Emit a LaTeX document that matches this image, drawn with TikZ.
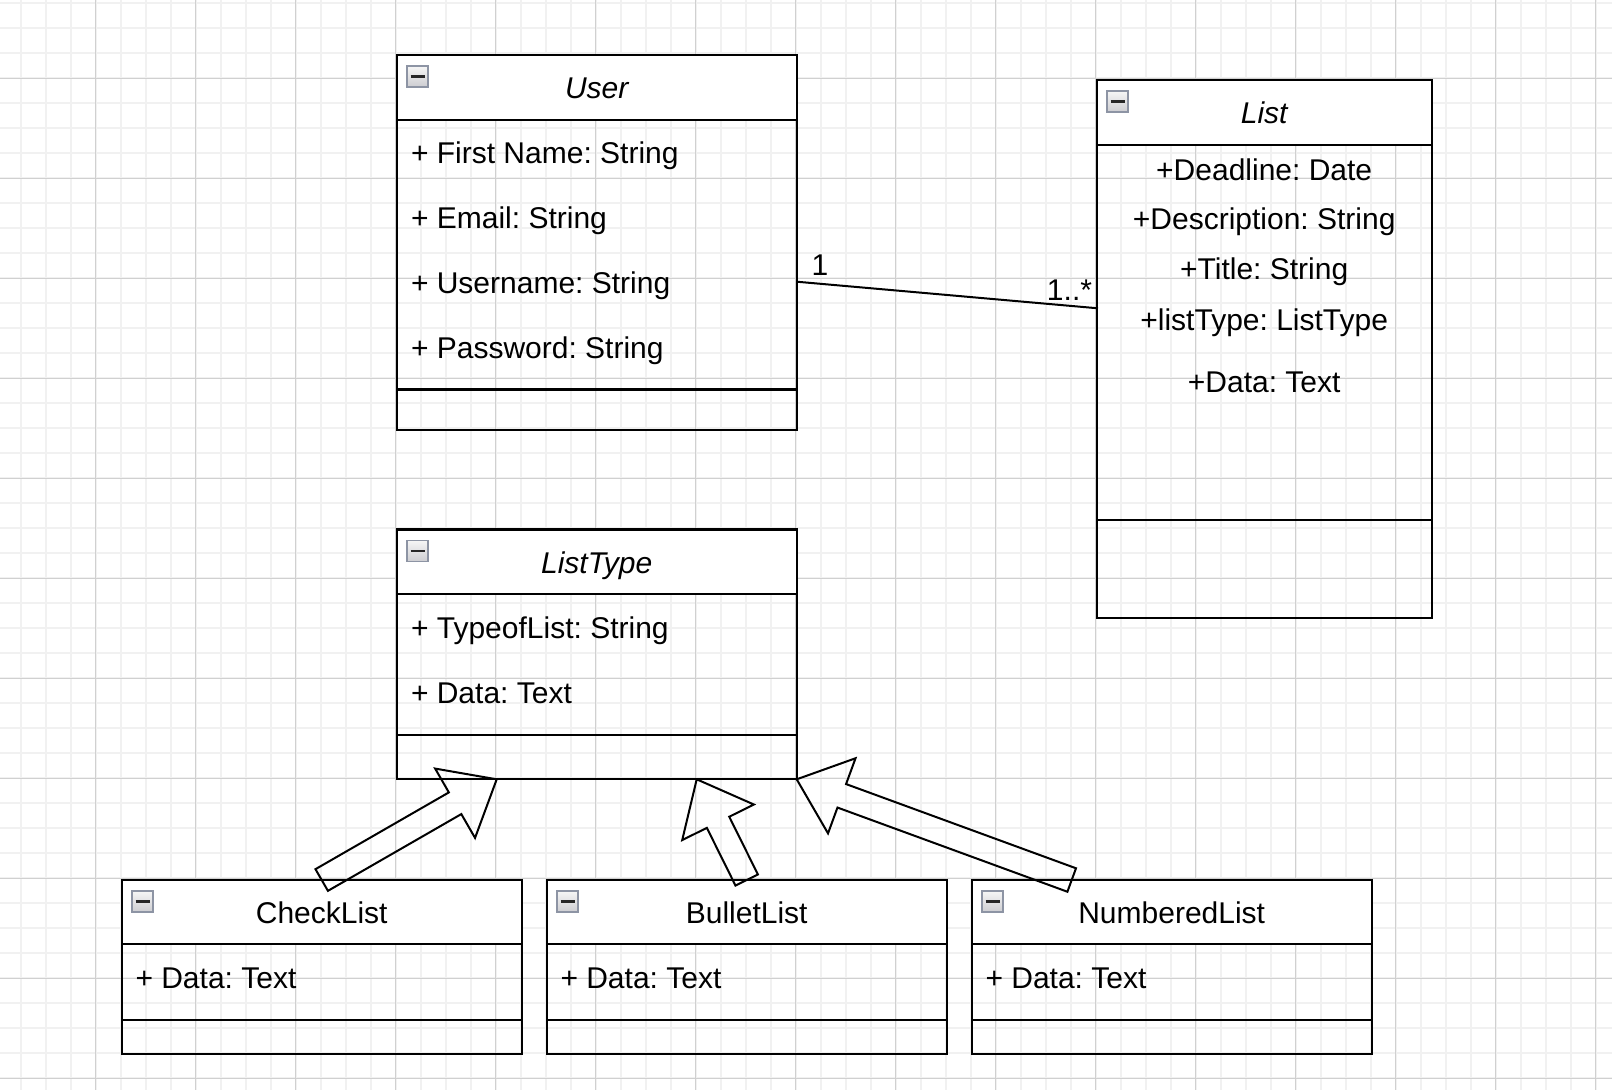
\documentclass[tikz,border=0pt]{standalone}
\usepackage{fontspec}
\setmainfont{Liberation Sans}
\usetikzlibrary{calc}
\frenchspacing

\definecolor{gridminor}{HTML}{F1F1F1}
\definecolor{gridmajor}{HTML}{D0D0D0}
\definecolor{iconedge}{HTML}{8D94A4}
\definecolor{iconlight}{HTML}{F6F6F6}
\definecolor{icondark}{HTML}{CDCDD1}

% collapse toggle in the top-left corner of a class header
\newcommand{\collapsetoggle}[1]{%
  \draw[iconedge, line width=1.6pt, top color=iconlight, bottom color=icondark]
    ($(#1.north west)+(10.5,11)$) rectangle ++(21,21);
  \draw[black!85, line width=2.6pt] ($(#1.north west)+(14,21.5)$) -- ++(14,0);
}

% hollow block arrow from a tail point to a tip point
\newcommand{\blockarrow}[2]{%
  \path ($(#2)!48pt!(#1)$) coordinate (ba-neck);
  \draw[genarrow]
    ($(#1)!12.5pt!90:(#2)$) -- ($(ba-neck)!12.5pt!90:(#2)$)
    -- ($(ba-neck)!40pt!90:(#2)$) -- (#2)
    -- ($(ba-neck)!40pt!-90:(#2)$) -- ($(ba-neck)!12.5pt!-90:(#2)$)
    -- ($(#1)!12.5pt!-90:(#2)$) -- cycle;
}

\begin{document}
\begin{tikzpicture}[x=1pt, y=-1pt,
  txt/.style={inner sep=0pt, outer sep=0pt, font=\fontsize{30}{35}\selectfont},
  attr/.style={txt, anchor=base west},
  centred/.style={txt, anchor=base},
  classtitle/.style={txt, anchor=base, font=\fontsize{30}{35}\selectfont\itshape},
  classframe/.style={draw=black, line width=2.3pt, inner sep=0pt, outer sep=0pt, anchor=north west},
  classhead/.style={classframe, fill=white},
  divider/.style={draw=black, line width=2.3pt},
  assoc/.style={draw=black, line width=2pt},
  genarrow/.style={draw=black, line width=2pt, line join=miter},
]
\useasboundingbox (0,0) rectangle (1612,1090);
\fill[white] (0,0) rectangle (1612,1090);

% background grid
\foreach \gx in {20.5,45.5,...,1612} \draw[gridminor, line width=2pt] (\gx,0) -- (\gx,1090);
\foreach \gy in {3,28,...,1090} \draw[gridminor, line width=2pt] (0,\gy) -- (1612,\gy);
\foreach \gx in {95.5,195.5,...,1612} \draw[gridmajor, line width=1pt] (\gx,0) -- (\gx,1090);
\foreach \gy in {78,178,...,1090} \draw[gridmajor, line width=1pt] (0,\gy) -- (1612,\gy);

% ---- User
\node[classframe, minimum width=400pt, minimum height=375pt] (user) at (396.7,54.7) {};
\node[classhead, minimum width=400pt, minimum height=65.6pt] (user-head) at (user.north west) {};
\draw[divider] ($(user.north west)+(0,334.9)$) -- ($(user.north east)+(0,334.9)$);
\collapsetoggle{user}
\node[classtitle] (user-title) at (596.7,98.3) {User};
\node[attr] (user-a1) at (411,163) {+ First Name: String};
\node[attr] (user-a2) at (411,228) {+ Email: String};
\node[attr] (user-a3) at (411,293) {+ Username: String};
\node[attr] (user-a4) at (411,358) {+ Password: String};

% ---- List
\node[classframe, minimum width=335pt, minimum height=538.3pt] (list) at (1096.7,80) {};
\node[classhead, minimum width=335pt, minimum height=64.7pt] (list-head) at (list.north west) {};
\draw[divider] ($(list.north west)+(0,440)$) -- ($(list.north east)+(0,440)$);
\collapsetoggle{list}
\node[classtitle] (list-title) at (1264.2,123.3) {List};
\node[centred] (list-a1) at (1264.2,180) {+Deadline: Date};
\node[centred] (list-a2) at (1264.2,229.5) {+Description: String};
\node[centred] (list-a3) at (1264.2,279.5) {+Title: String};
\node[centred] (list-a4) at (1264.2,330) {+listType: ListType};
\node[centred] (list-a5) at (1264.2,392.5) {+Data: Text};

% ---- ListType
\node[classframe, minimum width=400pt, minimum height=249.8pt] (listtype) at (396.7,529.5) {};
\node[classhead, minimum width=400pt, minimum height=64.7pt] (listtype-head) at (listtype.north west) {};
\draw[divider] ($(listtype.north west)+(0,205.2)$) -- ($(listtype.north east)+(0,205.2)$);
\collapsetoggle{listtype}
\node[classtitle] (listtype-title) at (596.7,573.5) {ListType};
\node[attr] (listtype-a1) at (411,638.5) {+ TypeofList: String};
\node[attr] (listtype-a2) at (411,703.3) {+ Data: Text};

% ---- CheckList
\node[classframe, minimum width=400pt, minimum height=173.8pt] (checklist) at (121.7,880) {};
\node[classhead, minimum width=400pt, minimum height=64.3pt] (checklist-head) at (checklist.north west) {};
\draw[divider] ($(checklist.north west)+(0,139.8)$) -- ($(checklist.north east)+(0,139.8)$);
\collapsetoggle{checklist}
\node[centred] (checklist-title) at (321.7,923.3) {CheckList};
\node[attr] (checklist-a1) at (135.5,988.3) {+ Data: Text};

% ---- BulletList
\node[classframe, minimum width=400pt, minimum height=173.8pt] (bulletlist) at (546.7,880) {};
\node[classhead, minimum width=400pt, minimum height=64.3pt] (bulletlist-head) at (bulletlist.north west) {};
\draw[divider] ($(bulletlist.north west)+(0,139.8)$) -- ($(bulletlist.north east)+(0,139.8)$);
\collapsetoggle{bulletlist}
\node[centred] (bulletlist-title) at (746.7,923.3) {BulletList};
\node[attr] (bulletlist-a1) at (560.5,988.3) {+ Data: Text};

% ---- NumberedList
\node[classframe, minimum width=400pt, minimum height=173.8pt] (numbered) at (971.7,880) {};
\node[classhead, minimum width=400pt, minimum height=64.3pt] (numbered-head) at (numbered.north west) {};
\draw[divider] ($(numbered.north west)+(0,139.8)$) -- ($(numbered.north east)+(0,139.8)$);
\collapsetoggle{numbered}
\node[centred] (numbered-title) at (1171.7,923.3) {NumberedList};
\node[attr] (numbered-a1) at (985.5,988.3) {+ Data: Text};

% ---- association User -- List
\coordinate (user-port) at ($(user.north east)+(0,227)$);
\coordinate (list-port) at ($(list.north west)+(1.3,228.3)$);
\draw[assoc] (user-port) -- (list-port);
\node[centred] (mult-user) at (820,275) {1};
\node[txt, anchor=base east] (mult-list) at (1092,300) {1..*};

% ---- generalisations towards ListType
\coordinate (lt-left) at ($(listtype.south west)!0.25!(listtype.south east)$);
\coordinate (lt-right) at ($(listtype.south west)!0.75!(listtype.south east)$);
\coordinate (nl-port) at ($(numbered.north west)!0.25!(numbered.north east)$);
\blockarrow{checklist.north}{lt-left}
\blockarrow{bulletlist.north}{lt-right}
\blockarrow{nl-port}{listtype.south east}

\end{tikzpicture}
\end{document}
